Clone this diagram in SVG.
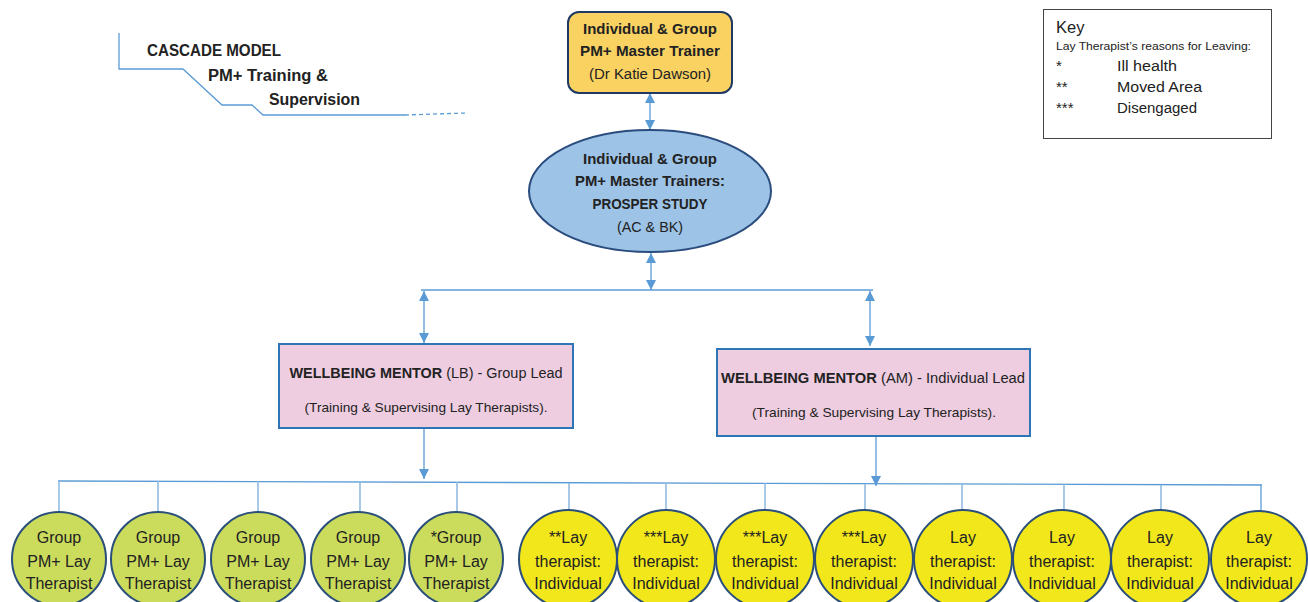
<svg xmlns="http://www.w3.org/2000/svg" width="1308" height="602" viewBox="0 0 1308 602">
<style>
text{font-family:"Liberation Sans",Arial,sans-serif;fill:#222;}
.b{font-weight:bold;}
.c{text-anchor:middle;}
.ct{font-size:16px;text-anchor:middle;}
.conn{stroke:#5B9BD5;stroke-width:1.3;fill:none;}
.drop{stroke:#93BBE3;stroke-width:1.6;fill:none;}
.green{fill:#CBDB5C;stroke:#2A4F7A;stroke-width:2;}
.yellow{fill:#F1E71B;stroke:#2A4F7A;stroke-width:2;}
.pink{fill:#EECDE1;stroke:#2E75B6;stroke-width:2;}
</style>
<defs>
<marker id="ah" markerUnits="userSpaceOnUse" markerWidth="12" markerHeight="10" refX="10" refY="5" orient="auto-start-reverse">
<path d="M0,0 L10,5 L0,10 z" fill="#5B9BD5"/>
</marker>
</defs>
<rect width="1308" height="602" fill="#fff"/>

<g id="title">
<path d="M119,33 V69 H183 L222,105 H252 L263,115 H405" stroke="#5B9BD5" stroke-width="1.3" fill="none"/>
<path d="M405,115 L467,113" stroke="#5B9BD5" stroke-width="1.3" stroke-dasharray="4,3" fill="none"/>
<text x="147" y="56" class="b" font-size="16" textLength="134" lengthAdjust="spacingAndGlyphs">CASCADE MODEL</text>
<text x="208" y="81" class="b" font-size="16" textLength="120" lengthAdjust="spacingAndGlyphs">PM+ Training &amp;</text>
<text x="269" y="105" class="b" font-size="16" textLength="91" lengthAdjust="spacingAndGlyphs">Supervision</text>
</g>

<g id="key">
<rect x="1043.5" y="9.5" width="228" height="129" fill="#fff" stroke="#444" stroke-width="1"/>
<text x="1056" y="33" font-size="16.5">Key</text>
<text x="1056" y="50" font-size="11.5" textLength="195" lengthAdjust="spacingAndGlyphs">Lay Therapist’s reasons for Leaving:</text>
<text x="1056" y="71" font-size="15">*</text>
<text x="1117" y="71" font-size="15.5" textLength="60" lengthAdjust="spacingAndGlyphs">Ill health</text>
<text x="1056" y="92" font-size="15">**</text>
<text x="1117" y="92" font-size="15.5" textLength="85" lengthAdjust="spacingAndGlyphs">Moved Area</text>
<text x="1056" y="113" font-size="15">***</text>
<text x="1117" y="113" font-size="15.5" textLength="80" lengthAdjust="spacingAndGlyphs">Disengaged</text>
</g>

<g id="connectors">
<line class="conn" x1="650" y1="93" x2="650" y2="130" marker-start="url(#ah)" marker-end="url(#ah)"/>
<line class="conn" x1="651" y1="253" x2="651" y2="290" marker-start="url(#ah)" marker-end="url(#ah)"/>
<line class="conn" x1="421" y1="290" x2="873" y2="290"/>
<line class="conn" x1="424" y1="291" x2="424" y2="343" marker-start="url(#ah)" marker-end="url(#ah)"/>
<line class="conn" x1="870" y1="291" x2="870" y2="346" marker-start="url(#ah)" marker-end="url(#ah)"/>
<line class="conn" x1="424" y1="429" x2="424" y2="479" marker-end="url(#ah)"/>
<line class="conn" x1="876" y1="437" x2="876" y2="486" marker-end="url(#ah)"/>
<path class="conn" d="M58,481 L1262,485"/>
<line class="drop" x1="59" y1="481" x2="59" y2="512"/>
<line class="drop" x1="158" y1="481" x2="158" y2="512"/>
<line class="drop" x1="258" y1="481" x2="258" y2="512"/>
<line class="drop" x1="360" y1="482" x2="360" y2="512"/>
<line class="drop" x1="457" y1="482" x2="457" y2="512"/>
<line class="drop" x1="569" y1="483" x2="569" y2="512"/>
<line class="drop" x1="666" y1="483" x2="666" y2="512"/>
<line class="drop" x1="765" y1="483" x2="765" y2="512"/>
<line class="drop" x1="865" y1="484" x2="865" y2="512"/>
<line class="drop" x1="962" y1="484" x2="962" y2="512"/>
<line class="drop" x1="1064" y1="484" x2="1064" y2="512"/>
<line class="drop" x1="1161" y1="485" x2="1161" y2="512"/>
<line class="conn" x1="1261" y1="485" x2="1261" y2="512"/>
</g>

<g id="master-trainer">
<rect x="568" y="12" width="164" height="81" rx="11" fill="#F9D262" stroke="#1F3864" stroke-width="2"/>
<text x="650" y="34" class="b c" font-size="15.5" textLength="134" lengthAdjust="spacingAndGlyphs">Individual &amp; Group</text>
<text x="650" y="56" class="b c" font-size="15.5" textLength="140" lengthAdjust="spacingAndGlyphs">PM+ Master Trainer</text>
<text x="650" y="79" class="c" font-size="15.5" textLength="122" lengthAdjust="spacingAndGlyphs">(Dr Katie Dawson)</text>
</g>

<g id="prosper">
<ellipse cx="650" cy="191" rx="121" ry="61" fill="#9DC3E6" stroke="#2B4C7E" stroke-width="2"/>
<text x="650" y="164" class="b c" font-size="15.5" textLength="134" lengthAdjust="spacingAndGlyphs">Individual &amp; Group</text>
<text x="650" y="186" class="b c" font-size="15.5" textLength="150" lengthAdjust="spacingAndGlyphs">PM+ Master Trainers:</text>
<text x="650" y="209" class="b c" font-size="15.5" textLength="115" lengthAdjust="spacingAndGlyphs">PROSPER STUDY</text>
<text x="650" y="232" class="c" font-size="15.5" textLength="66" lengthAdjust="spacingAndGlyphs">(AC &amp; BK)</text>
</g>

<g id="mentor-lb">
<rect x="279" y="344" width="294" height="84" class="pink"/>
<text x="426" y="378" class="c" font-size="15.5" textLength="273" lengthAdjust="spacingAndGlyphs"><tspan class="b">WELLBEING MENTOR</tspan> (LB) - Group Lead</text>
<text x="426" y="412" class="c" font-size="13" textLength="243" lengthAdjust="spacingAndGlyphs">(Training &amp; Supervising Lay Therapists).</text>
</g>

<g id="mentor-am">
<rect x="717" y="349" width="313" height="87" class="pink"/>
<text x="873" y="383" class="c" font-size="15.5" textLength="304" lengthAdjust="spacingAndGlyphs"><tspan class="b">WELLBEING MENTOR</tspan> (AM) - Individual Lead</text>
<text x="874" y="417" class="c" font-size="13" textLength="244" lengthAdjust="spacingAndGlyphs">(Training &amp; Supervising Lay Therapists).</text>
</g>

<g id="g1"><circle cx="59" cy="559" r="47" class="green"/><text x="59" y="543" class="ct">Group</text><text x="59" y="567" class="ct">PM+ Lay</text><text x="59" y="589" class="ct">Therapist</text></g>
<g id="g2"><circle cx="158" cy="559" r="47" class="green"/><text x="158" y="543" class="ct">Group</text><text x="158" y="567" class="ct">PM+ Lay</text><text x="158" y="589" class="ct">Therapist</text></g>
<g id="g3"><circle cx="258" cy="559" r="47" class="green"/><text x="258" y="543" class="ct">Group</text><text x="258" y="567" class="ct">PM+ Lay</text><text x="258" y="589" class="ct">Therapist</text></g>
<g id="g4"><circle cx="358" cy="559" r="47" class="green"/><text x="358" y="543" class="ct">Group</text><text x="358" y="567" class="ct">PM+ Lay</text><text x="358" y="589" class="ct">Therapist</text></g>
<g id="g5"><circle cx="456" cy="559" r="47" class="green"/><text x="456" y="543" class="ct">*Group</text><text x="456" y="567" class="ct">PM+ Lay</text><text x="456" y="589" class="ct">Therapist</text></g>
<g id="i1"><circle cx="568" cy="559" r="49" class="yellow"/><text x="568" y="543" class="ct">**Lay</text><text x="568" y="567" class="ct">therapist:</text><text x="568" y="589" class="ct">Individual</text></g>
<g id="i2"><circle cx="666" cy="559" r="49" class="yellow"/><text x="666" y="543" class="ct">***Lay</text><text x="666" y="567" class="ct">therapist:</text><text x="666" y="589" class="ct">Individual</text></g>
<g id="i3"><circle cx="765" cy="559" r="49" class="yellow"/><text x="765" y="543" class="ct">***Lay</text><text x="765" y="567" class="ct">therapist:</text><text x="765" y="589" class="ct">Individual</text></g>
<g id="i4"><circle cx="864" cy="559" r="49" class="yellow"/><text x="864" y="543" class="ct">***Lay</text><text x="864" y="567" class="ct">therapist:</text><text x="864" y="589" class="ct">Individual</text></g>
<g id="i5"><circle cx="963" cy="559" r="49" class="yellow"/><text x="963" y="543" class="ct">Lay</text><text x="963" y="567" class="ct">therapist:</text><text x="963" y="589" class="ct">Individual</text></g>
<g id="i6"><circle cx="1062" cy="559" r="49" class="yellow"/><text x="1062" y="543" class="ct">Lay</text><text x="1062" y="567" class="ct">therapist:</text><text x="1062" y="589" class="ct">Individual</text></g>
<g id="i7"><circle cx="1160" cy="559" r="49" class="yellow"/><text x="1160" y="543" class="ct">Lay</text><text x="1160" y="567" class="ct">therapist:</text><text x="1160" y="589" class="ct">Individual</text></g>
<g id="i8"><circle cx="1259" cy="559" r="48" class="yellow"/><text x="1259" y="543" class="ct">Lay</text><text x="1259" y="567" class="ct">therapist:</text><text x="1259" y="589" class="ct">Individual</text></g>
</svg>
